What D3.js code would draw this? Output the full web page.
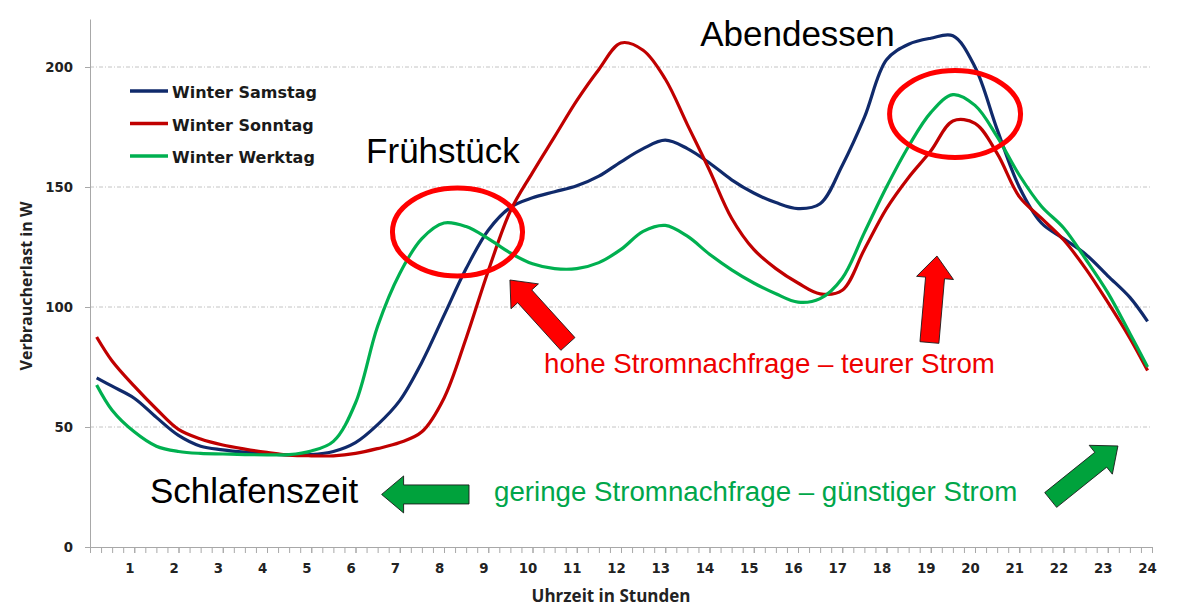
<!DOCTYPE html>
<html>
<head>
<meta charset="utf-8">
<script src="https://cdn.jsdelivr.net/npm/d3@7"></script>
<style>
  html, body { margin: 0; padding: 0; background: #fff; }
  svg { display: block; }
</style>
</head>
<body>
<svg id="chart"></svg>
<script>
// half-hourly readings, hours of the day
const hours = [0.15, 0.5, 1, 1.5, 2, 2.5, 3, 3.5, 4, 4.5, 5, 5.5, 6, 6.5, 7, 7.5, 8, 8.5,
  9, 9.5, 10, 10.5, 11, 11.5, 12, 12.5, 13, 13.5, 14, 14.5, 15, 15.5, 16, 16.5, 17, 17.5,
  18, 18.5, 19, 19.5, 20, 20.5, 21, 21.5, 22, 22.5, 23, 23.5, 23.9];

const samstag = [70.5, 67, 62, 54, 46.5, 42, 40.5, 39.5, 38.8, 38.4, 38.5, 39.8, 43.5, 51, 61, 77, 96.5, 116,
  132, 141.5, 145.5, 148, 150.5, 154.5, 160.5, 166, 169.5, 166, 160, 153, 147.5, 143.5, 141, 143, 159, 179,
  203, 209.5, 212, 213, 200, 174, 150, 135, 128.5, 122, 113, 104, 94];

const sonntag = [87.5, 77.5, 67, 57.5, 49, 45, 42.5, 40.8, 39.4, 38.3, 38, 38, 39, 41, 43.5, 48, 62, 87,
  115, 140, 156, 171, 186, 199, 210, 207, 195, 176, 157, 137, 124, 116, 110, 105.5, 107, 124,
  141, 154, 165, 177.5, 176.5, 164, 146, 137, 128, 116, 102, 87, 73.5];

const werktag = [67.5, 57, 48, 42, 39.8, 39, 38.75, 38.5, 38.4, 38.5, 40, 44, 60, 92, 114, 128.5, 135, 133.5,
  128.5, 122.5, 118, 116, 116, 118.5, 124, 131.5, 134, 129.5, 122, 115.5, 110, 105.5, 102, 103.5, 112, 131,
  150, 167, 181, 188.5, 184, 171, 155, 142, 133, 120, 106, 89, 75];

const seriesNames = ["Winter Samstag", "Winter Sonntag", "Winter Werktag"];
const yTicks = [0, 50, 100, 150, 200];
const hourLabels = [1, 2, 3, 4, 5, 6, 7, 8, 9, 10, 11, 12, 13, 14, 15, 16, 17, 18, 19, 20, 21, 22, 23, 24];

const width = 1189;
const height = 613;
const margin = { top: 19, right: 37, bottom: 66, left: 90 };
const colors = ["#102a6b", "#c00000", "#00b050"];

const series = [samstag, sonntag, werktag].map((vals, i) => ({
  name: seriesNames[i],
  color: colors[i],
  values: hours.map((h, j) => ({ h: h, v: vals[j] }))
}));

const svg = d3.select("#chart").attr("width", width).attr("height", height);

const x = d3.scaleLinear().domain([0, 24]).range([margin.left, width - margin.right]);
const y = d3.scaleLinear().domain([0, 220]).range([height - margin.bottom, margin.top]);

// grid
svg.append("g")
  .selectAll("line")
  .data(yTicks.filter(d => d > 0))
  .join("line")
  .attr("x1", x(0)).attr("x2", x(24))
  .attr("y1", d => y(d)).attr("y2", d => y(d))
  .attr("stroke", "#c4c4c4")
  .attr("stroke-width", 1)
  .attr("stroke-dasharray", "4,2,1,2");

// y axis
const yAxis = svg.append("g")
  .attr("transform", `translate(${x(0)},0)`)
  .call(d3.axisLeft(y).tickValues(yTicks).tickSize(5).tickSizeOuter(0).tickPadding(12));
yAxis.selectAll("path, line").attr("stroke", "#a8a8a8");
yAxis.selectAll("text")
  .attr("font-family", "DejaVu Sans")
  .attr("font-weight", "bold")
  .attr("font-size", 13.3)
  .attr("fill", "#222");

// x axis: quarter-hour ticks, labels on full hours
const quarterTicks = d3.range(0, 24.01, 0.25);
const xAxis = svg.append("g")
  .attr("transform", `translate(0,${y(0)})`)
  .call(d3.axisBottom(x).tickValues(quarterTicks).tickSize(6).tickSizeOuter(0).tickFormat(""));
xAxis.selectAll("path, line").attr("stroke", "#a8a8a8");

const xLabels = svg.append("g")
  .attr("transform", `translate(0,${y(0)})`)
  .call(d3.axisBottom(x).tickValues(hourLabels).tickSize(6).tickPadding(11));
xLabels.select(".domain").remove();
xLabels.selectAll("line").attr("stroke", "#a8a8a8");
xLabels.selectAll("text")
  .attr("dx", -5)
  .attr("font-family", "DejaVu Sans")
  .attr("font-weight", "bold")
  .attr("font-size", 13.3)
  .attr("fill", "#222");

// axis titles
svg.append("text")
  .attr("x", (x(0) + x(24)) / 2 - 10)
  .attr("y", 602)
  .attr("text-anchor", "middle")
  .attr("font-family", "Open Sans")
  .attr("font-weight", "bold")
  .attr("font-size", 17)
  .attr("fill", "#222")
  .text("Uhrzeit in Stunden");

svg.append("text")
  .attr("transform", "translate(32,286) rotate(-90)")
  .attr("text-anchor", "middle")
  .attr("font-family", "Open Sans")
  .attr("font-weight", "bold")
  .attr("font-size", 16)
  .attr("fill", "#222")
  .text("Verbraucherlast in W");

// lines
const line = d3.line()
  .x(d => x(d.h))
  .y(d => y(d.v))
  .curve(d3.curveCatmullRom.alpha(0.5));

svg.append("g")
  .selectAll("path")
  .data(series)
  .join("path")
  .attr("d", d => line(d.values))
  .attr("fill", "none")
  .attr("stroke", d => d.color)
  .attr("stroke-width", 3.2)
  .attr("stroke-linejoin", "round");

// legend
const legend = svg.append("g").attr("transform", "translate(130,91)");
const item = legend.selectAll("g")
  .data(series)
  .join("g")
  .attr("transform", (d, i) => `translate(0,${i * 32.5})`);
item.append("line")
  .attr("x1", 0).attr("x2", 38)
  .attr("stroke", d => d.color)
  .attr("stroke-width", 3.5);
item.append("text")
  .attr("x", 42)
  .attr("y", 7)
  .attr("font-family", "DejaVu Sans")
  .attr("font-weight", "bold")
  .attr("font-size", 16)
  .attr("fill", "#1a1a1a")
  .text(d => d.name);

// annotations (positions in hours / watts)
const ellipses = [
  { h: 8.305, v: 131.25, rh: 1.47, rv: 18.3 },
  { h: 19.55, v: 180.4, rh: 1.48, rv: 18.1 }
];
svg.append("g")
  .selectAll("ellipse")
  .data(ellipses)
  .join("ellipse")
  .attr("cx", d => x(d.h))
  .attr("cy", d => y(d.v))
  .attr("rx", d => x(d.h + d.rh) - x(d.h))
  .attr("ry", d => y(d.v - d.rv) - y(d.v))
  .attr("fill", "none")
  .attr("stroke", "#ff0000")
  .attr("stroke-width", 5);

const arrows = [
  { from: [10.8, 84.6], to: [9.49, 111.25], fill: "#ff0000" },
  { from: [18.97, 85.2], to: [19.14, 121.25], fill: "#ff0000" },
  { from: [8.565, 21.9], to: [6.59, 21.9], fill: "#00a23c" },
  { from: [21.71, 19.6], to: [23.23, 42.1], fill: "#00a23c" }
];

function arrowPath(d) {
  const x0 = x(d.from[0]), y0 = y(d.from[1]);
  const x1 = x(d.to[0]), y1 = y(d.to[1]);
  const len = Math.hypot(x1 - x0, y1 - y0);
  const ux = (x1 - x0) / len, uy = (y1 - y0) / len;
  const nx = -uy, ny = ux;
  const sw = 9.5, hw = 18.5, hl = 22;
  const bx = x1 - ux * hl, by = y1 - uy * hl;
  const pts = [
    [x0 + nx * sw, y0 + ny * sw],
    [bx + nx * sw, by + ny * sw],
    [bx + nx * hw, by + ny * hw],
    [x1, y1],
    [bx - nx * hw, by - ny * hw],
    [bx - nx * sw, by - ny * sw],
    [x0 - nx * sw, y0 - ny * sw]
  ];
  return "M" + pts.map(p => p.join(",")).join("L") + "Z";
}

svg.append("g")
  .selectAll("path")
  .data(arrows)
  .join("path")
  .attr("d", arrowPath)
  .attr("fill", d => d.fill)
  .attr("stroke", "#1a1a1a")
  .attr("stroke-width", 0.9)
  .attr("stroke-linejoin", "miter");

const notes = [
  { h: 6.24, v: 160, text: "Frühstück", size: 35, color: "#000" },
  { h: 13.79, v: 208.75, text: "Abendessen", size: 35, color: "#000" },
  { h: 1.356, v: 18.3, text: "Schlafenszeit", size: 35, color: "#000" },
  { h: 10.26, v: 72.5, text: "hohe Stromnachfrage – teurer Strom", size: 27.7, color: "#ee0000" },
  { h: 9.13, v: 19.2, text: "geringe Stromnachfrage – günstiger Strom", size: 27.7, color: "#00a64a" }
];
svg.append("g")
  .selectAll("text")
  .data(notes)
  .join("text")
  .attr("x", d => x(d.h))
  .attr("y", d => y(d.v))
  .attr("font-family", "Liberation Sans, Arial, sans-serif")
  .attr("font-size", d => d.size)
  .attr("fill", d => d.color)
  .text(d => d.text);
</script>
</body>
</html>
